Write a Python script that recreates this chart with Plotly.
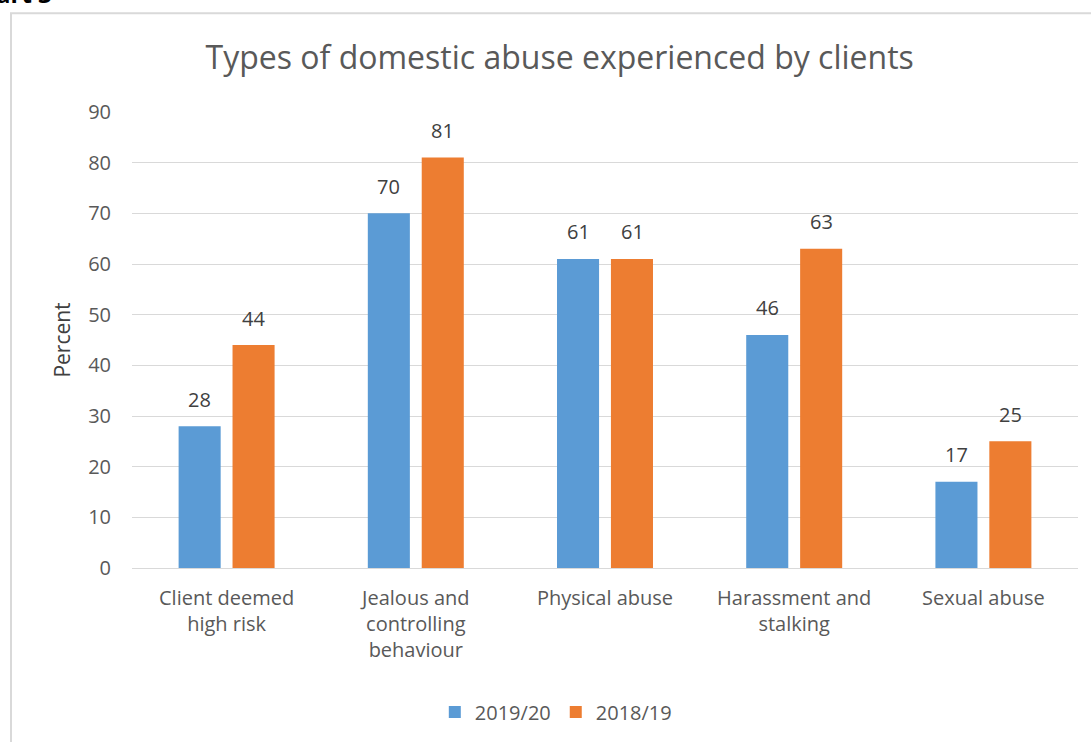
import plotly.graph_objects as go

categories = [
    "Client deemed<br>high risk",
    "Jealous and<br>controlling<br>behaviour",
    "Physical abuse",
    "Harassment and<br>stalking",
    "Sexual abuse",
]
values_2019_20 = [28, 70, 61, 46, 17]
values_2018_19 = [44, 81, 61, 63, 25]
y_ticks = [0, 10, 20, 30, 40, 50, 60, 70, 80, 90]

FONT = "Open Sans"
GREY = "#595959"
LABEL_FONT = dict(family=FONT, size=20, color="#404040")

fig = go.Figure()
fig.add_trace(go.Bar(
    name="2019/20", x=categories, y=values_2019_20,
    marker=dict(color="#5B9BD5", line=dict(width=0)),
))
fig.add_trace(go.Bar(
    name="2018/19", x=categories, y=values_2018_19,
    marker=dict(color="#ED7D31", line=dict(width=0)),
))

# Value labels above each bar (left bar of the pair shifted left, right bar shifted right)
for values, shift in ((values_2019_20, -27), (values_2018_19, 27)):
    for cat, v in zip(categories, values):
        fig.add_annotation(
            x=cat, y=v, xref="x", yref="y", text=str(v),
            showarrow=False, xshift=shift, yshift=27,
            xanchor="center", yanchor="middle", font=LABEL_FONT,
        )

fig.update_layout(
    width=1091, height=742,
    margin=dict(l=132, r=13, t=112, b=173),
    paper_bgcolor="white", plot_bgcolor="white",
    font=dict(family=FONT, color=GREY),
    barmode="group", bargap=0.43, bargroupgap=0.22,
    title=dict(
        text="Types of domestic abuse experienced by clients",
        font=dict(family=FONT, size=32, color=GREY),
        x=0.513, xanchor="center", xref="container",
        y=1 - 58 / 742, yanchor="middle",
    ),
    xaxis=dict(
        tickfont=dict(family=FONT, size=20, color=GREY),
        showgrid=False, showline=False, ticks="",
        ticklabelstandoff=16,
    ),
    yaxis=dict(
        range=[0, 90], tickvals=y_ticks,
        tickfont=dict(family=FONT, size=20, color=GREY),
        showgrid=True, gridcolor="#D9D9D9", gridwidth=1,
        zeroline=True, zerolinecolor="#D9D9D9", zerolinewidth=1,
        showline=False, ticks="", ticklabelstandoff=20,
        title=dict(text="Percent", font=dict(family=FONT, size=21, color="#404040"), standoff=11),
    ),
    legend=dict(
        orientation="h", x=0.448, xanchor="center",
        y=-0.313, yanchor="middle",
        font=dict(family=FONT, size=20, color=GREY),
        traceorder="normal",
    ),
    showlegend=True,
)

# Outer chart border
fig.add_shape(
    type="rect", xref="paper", yref="paper",
    x0=-121 / 946, x1=1.03, y0=-0.42, y1=(569 - 13) / 457,
    line=dict(color="#D9D9D9", width=2), fillcolor="rgba(0,0,0,0)",
    layer="below",
)

# Heading above the chart frame
fig.add_annotation(
    text="<b>Chart 3</b>", xref="paper", yref="paper",
    x=(54 - 132) / 946, xanchor="right",
    y=(569 - 12) / 457, yanchor="bottom",
    showarrow=False, font=dict(family=FONT, size=24, color="black"),
)

fig.write_html("out.html")
